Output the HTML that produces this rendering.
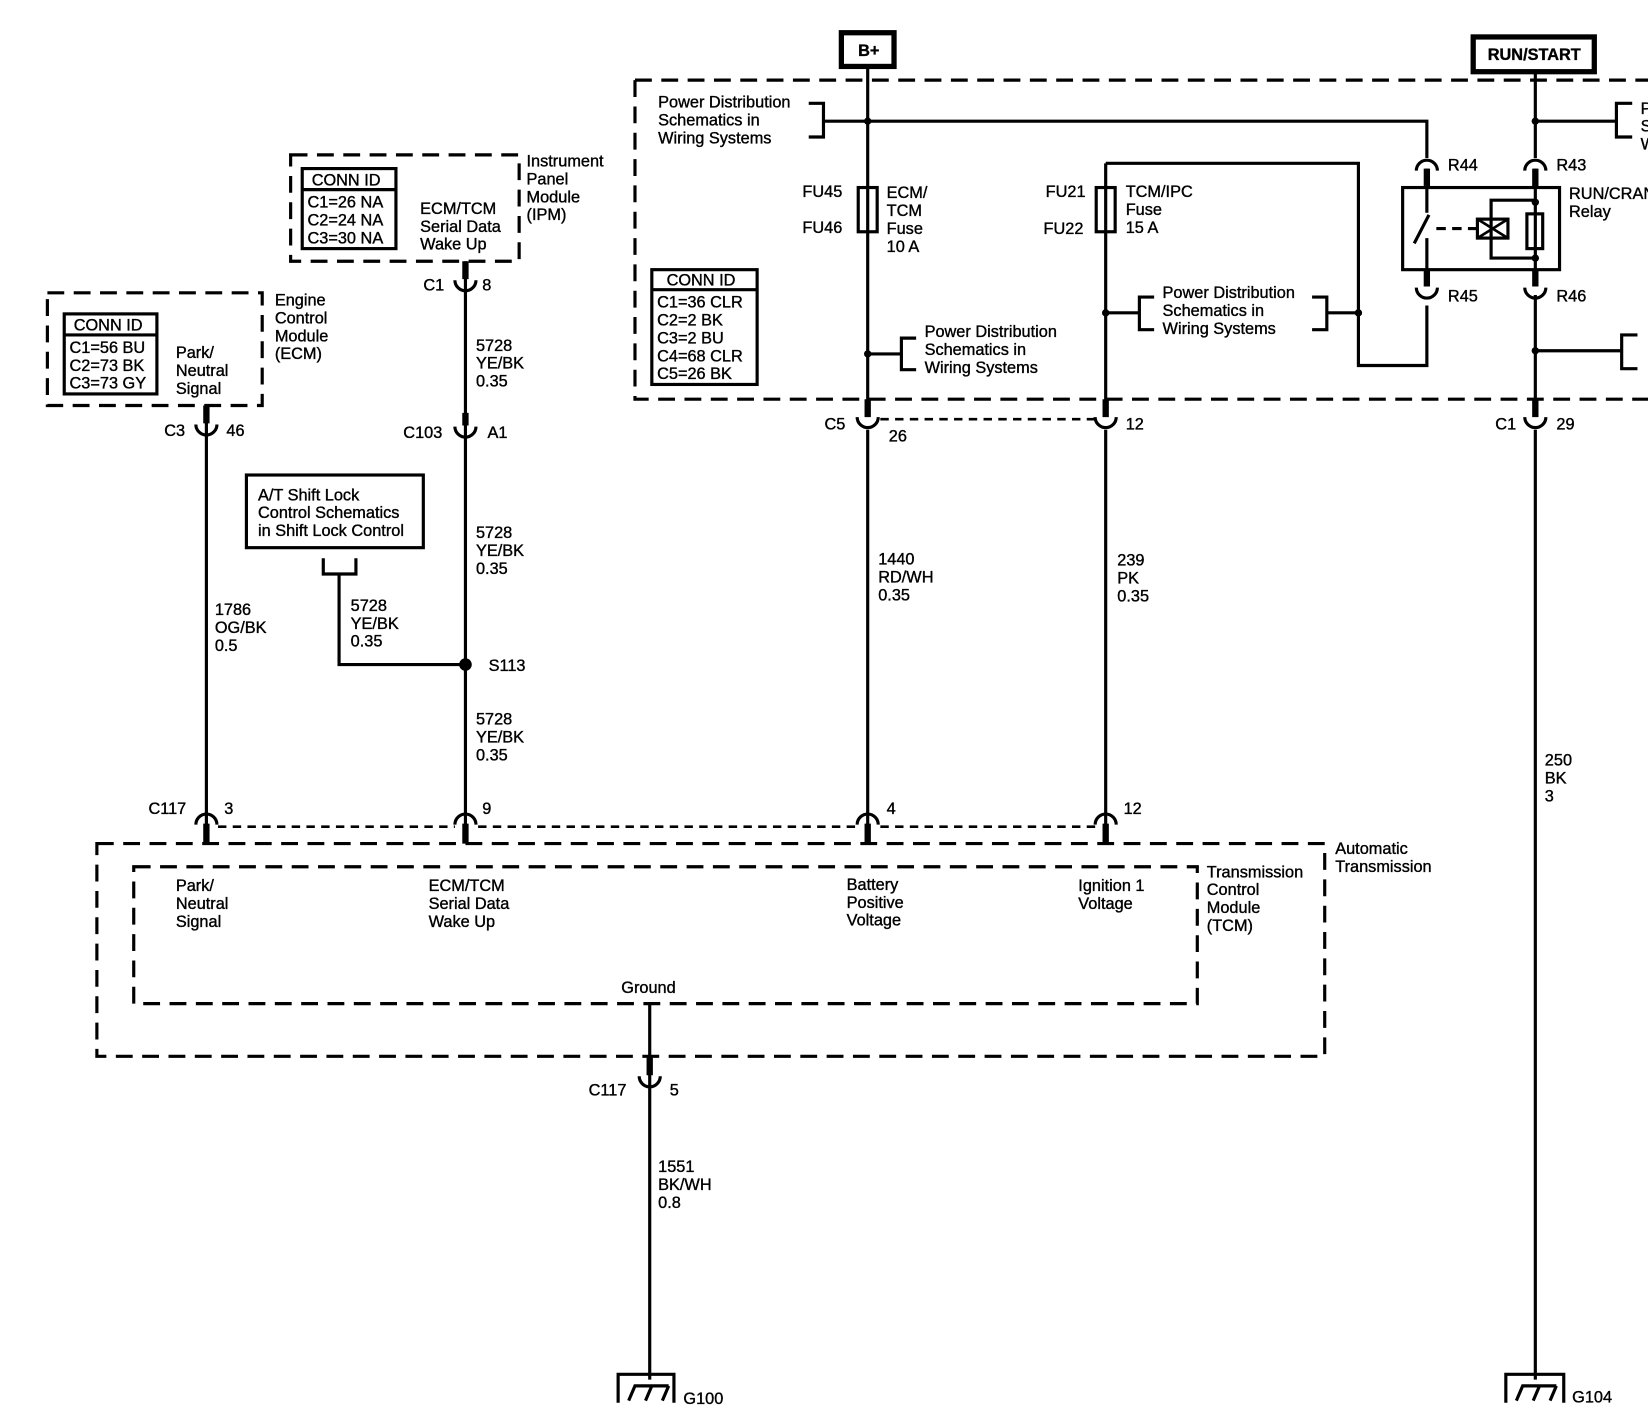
<!DOCTYPE html>
<html><head><meta charset="utf-8"><style>
html,body{margin:0;padding:0;background:#fff;overflow:hidden;}
svg{display:block;}
text{font-family:"Liberation Sans",sans-serif;font-size:15.5px;fill:#000;stroke:#000;stroke-width:0.35;}
</style></head><body>
<svg width="1648" height="1426" viewBox="0 0 1565 1354" xmlns="http://www.w3.org/2000/svg">
<g fill="none" stroke="#000" stroke-width="3">
<g stroke-dasharray="16,9">
<path d="M603 76 H1570 M603 76 V379 H1570"/>
<rect x="276" y="147" width="217" height="101"/>
<rect x="45" y="278" width="204" height="107"/>
<rect x="92" y="801" width="1166" height="202"/>
<rect x="127" y="823" width="1010" height="130"/>
</g>
<g stroke-dasharray="8,6" stroke-width="2.5">
<path d="M836 398 H1040"/>
<path d="M207 785 H432 M454 785 H812 M836 785 H1040"/>
</g>
<rect x="799" y="31" width="50" height="32" stroke-width="5"/>
<rect x="1399" y="35" width="115" height="33" stroke-width="5"/>
<path d="M824 65 V392 M824 408 V790"/>
<path d="M782 115 H1355 V150"/>
<path d="M768 98 H782 V130 H768"/>
<rect x="815" y="178" width="18" height="42"/>
<path d="M824 336 H856 M870 321 H856 V351 H870"/>
<path d="M1050 155 V392 M1050 408 V790"/>
<path d="M1050 155 H1290 V347 H1355 V290"/>
<rect x="1041" y="178" width="18" height="42"/>
<path d="M1050 297 H1082 M1096 282 H1082 V313 H1096"/>
<path d="M1246 282 H1260 V313 H1246 M1260 297 H1290"/>
<rect x="1332" y="178" width="149" height="78"/>
<path d="M1355 160 V202 M1357 204 L1343 231 M1355 226 V270"/>
<path d="M1364 217 H1402" stroke-dasharray="9,6"/>
<rect x="1403" y="208" width="29" height="18"/>
<path d="M1403 208 L1432 226 M1432 208 L1403 226" stroke-width="2.5"/>
<rect x="1450" y="203" width="15" height="33"/>
<path d="M1458 190 H1416 V245 H1458"/>
<path d="M1458 70 V150 M1458 160 V270 M1458 280 V392 M1458 408 V1310"/>
<path d="M1458 115 H1535 M1550 98 H1535 V130 H1550"/>
<path d="M1458 333 H1540 M1555 318 H1540 V350 H1555"/>
<path d="M1345 162 A10 10 0 0 1 1365 162 M1448 162 A10 10 0 0 1 1468 162"/>
<path d="M1345 273 A10 10 0 0 0 1365 273 M1448 273 A10 10 0 0 0 1468 273"/>
<path d="M442 248 V790"/>
<path d="M322 545 V631 H442"/>
<path d="M307 530 V545 H338 V530"/>
<rect x="234" y="451" width="168" height="69"/>
<path d="M196 385 V790"/>
<path d="M617 953 V1310"/>
<path d="M587 1332 V1305 H640 V1332"/>
<path d="M597 1330 L603 1316 H635 M613 1330 L619 1316 M629 1330 L635 1316"/>
<path d="M1430 1332 V1305 H1485 V1332"/>
<path d="M1440 1330 L1446 1316 H1478 M1456 1330 L1462 1316 M1472 1330 L1478 1316"/>
<rect x="287" y="160" width="89" height="76"/>
<path d="M287 180 H376"/>
<rect x="61" y="298" width="88" height="76"/>
<path d="M61 318 H149"/>
<rect x="619" y="256" width="100" height="109"/>
<path d="M619 275 H719"/>
</g>
<g fill="none" stroke="#000">
<path stroke-width="6" d="M442 248 V265 M442 392 V404 M196 385 V402 M824 379 V396 M1050 379 V396 M1458 379 V396 M617 1003 V1021 M1355 160 V178 M1458 160 V178 M1355 256 V272 M1458 256 V272 M196 782 V801 M442 782 V801 M824 782 V801 M1050 782 V801"/>
<g stroke-width="3">
<path d="M432 266 A10 10 0 0 0 452 266"/>
<path d="M432 405 A10 10 0 0 0 452 405"/>
<path d="M186 403 A10 10 0 0 0 206 403"/>
<path d="M814 396 A10 10 0 0 0 834 396"/>
<path d="M1040 396 A10 10 0 0 0 1060 396"/>
<path d="M1448 396 A10 10 0 0 0 1468 396"/>
<path d="M607 1022 A10 10 0 0 0 627 1022"/>
<path d="M186 783 A10 10 0 0 1 206 783"/>
<path d="M432 783 A10 10 0 0 1 452 783"/>
<path d="M814 783 A10 10 0 0 1 834 783"/>
<path d="M1040 783 A10 10 0 0 1 1060 783"/>
</g>
</g>
<g fill="#000">
<circle cx="824" cy="115" r="3.5"/><circle cx="824" cy="336" r="3.5"/>
<circle cx="1050" cy="297" r="3.5"/><circle cx="1290" cy="297" r="3.5"/>
<circle cx="1458" cy="115" r="3.5"/><circle cx="1458" cy="333" r="3.5"/>
<circle cx="1458" cy="192" r="3.5"/><circle cx="1458" cy="245" r="3.5"/>
<circle cx="442" cy="631" r="6"/>
</g>
<text x="825" y="53" text-anchor="middle" font-weight="bold">B+</text>
<text x="1457" y="57" text-anchor="middle" font-weight="bold">RUN/START</text>
<text x="625" y="102">Power Distribution</text><text x="625" y="119">Schematics in</text><text x="625" y="136">Wiring Systems</text>
<text x="1558" y="108">Power Distribution</text><text x="1558" y="125">Schematics in</text><text x="1558" y="142">Wiring Systems</text>
<text x="762" y="187">FU45</text><text x="762" y="221">FU46</text>
<text x="842" y="188">ECM/</text><text x="842" y="205">TCM</text><text x="842" y="222">Fuse</text><text x="842" y="239">10 A</text>
<text x="993" y="187">FU21</text><text x="991" y="222">FU22</text>
<text x="1069" y="187">TCM/IPC</text><text x="1069" y="204">Fuse</text><text x="1069" y="221">15 A</text>
<text x="633" y="271">CONN ID</text>
<text x="624" y="292">C1=36 CLR</text><text x="624" y="309">C2=2 BK</text><text x="624" y="326">C3=2 BU</text><text x="624" y="343">C4=68 CLR</text><text x="624" y="360">C5=26 BK</text>
<text x="878" y="320">Power Distribution</text><text x="878" y="337">Schematics in</text><text x="878" y="354">Wiring Systems</text>
<text x="1104" y="283">Power Distribution</text><text x="1104" y="300">Schematics in</text><text x="1104" y="317">Wiring Systems</text>
<text x="1375" y="162">R44</text><text x="1478" y="162">R43</text>
<text x="1375" y="286">R45</text><text x="1478" y="286">R46</text>
<text x="1490" y="189">RUN/CRANK</text><text x="1490" y="206">Relay</text>
<text x="783" y="408">C5</text><text x="844" y="419">26</text><text x="1069" y="408">12</text>
<text x="1420" y="408">C1</text><text x="1478" y="408">29</text>
<text x="834" y="536">1440</text><text x="834" y="553">RD/WH</text><text x="834" y="570">0.35</text>
<text x="1061" y="537">239</text><text x="1061" y="554">PK</text><text x="1061" y="571">0.35</text>
<text x="1467" y="727">250</text><text x="1467" y="744">BK</text><text x="1467" y="761">3</text>
<text x="296" y="176">CONN ID</text>
<text x="292" y="197">C1=26 NA</text><text x="292" y="214">C2=24 NA</text><text x="292" y="231">C3=30 NA</text>
<text x="399" y="203">ECM/TCM</text><text x="399" y="220">Serial Data</text><text x="399" y="237">Wake Up</text>
<text x="500" y="158">Instrument</text><text x="500" y="175">Panel</text><text x="500" y="192">Module</text><text x="500" y="209">(IPM)</text>
<text x="402" y="276">C1</text><text x="458" y="276">8</text>
<text x="452" y="333">5728</text><text x="452" y="350">YE/BK</text><text x="452" y="367">0.35</text>
<text x="383" y="416">C103</text><text x="463" y="416">A1</text>
<text x="245" y="475">A/T Shift Lock</text><text x="245" y="492">Control Schematics</text><text x="245" y="509">in Shift Lock Control</text>
<text x="452" y="511">5728</text><text x="452" y="528">YE/BK</text><text x="452" y="545">0.35</text>
<text x="333" y="580">5728</text><text x="333" y="597">YE/BK</text><text x="333" y="614">0.35</text>
<text x="464" y="637">S113</text>
<text x="452" y="688">5728</text><text x="452" y="705">YE/BK</text><text x="452" y="722">0.35</text>
<text x="70" y="314">CONN ID</text>
<text x="66" y="335">C1=56 BU</text><text x="66" y="352">C2=73 BK</text><text x="66" y="369">C3=73 GY</text>
<text x="167" y="340">Park/</text><text x="167" y="357">Neutral</text><text x="167" y="374">Signal</text>
<text x="261" y="290">Engine</text><text x="261" y="307">Control</text><text x="261" y="324">Module</text><text x="261" y="341">(ECM)</text>
<text x="156" y="414">C3</text><text x="215" y="414">46</text>
<text x="204" y="584">1786</text><text x="204" y="601">OG/BK</text><text x="204" y="618">0.5</text>
<text x="141" y="773">C117</text><text x="213" y="773">3</text><text x="458" y="773">9</text><text x="842" y="773">4</text><text x="1067" y="773">12</text>
<text x="1268" y="811">Automatic</text><text x="1268" y="828">Transmission</text>
<text x="1146" y="833">Transmission</text><text x="1146" y="850">Control</text><text x="1146" y="867">Module</text><text x="1146" y="884">(TCM)</text>
<text x="167" y="846">Park/</text><text x="167" y="863">Neutral</text><text x="167" y="880">Signal</text>
<text x="407" y="846">ECM/TCM</text><text x="407" y="863">Serial Data</text><text x="407" y="880">Wake Up</text>
<text x="804" y="845">Battery</text><text x="804" y="862">Positive</text><text x="804" y="879">Voltage</text>
<text x="1024" y="846">Ignition 1</text><text x="1024" y="863">Voltage</text>
<text x="590" y="943">Ground</text>
<text x="559" y="1040">C117</text><text x="636" y="1040">5</text>
<text x="625" y="1113">1551</text><text x="625" y="1130">BK/WH</text><text x="625" y="1147">0.8</text>
<text x="649" y="1333">G100</text><text x="1493" y="1332">G104</text>
</svg>
</body></html>
